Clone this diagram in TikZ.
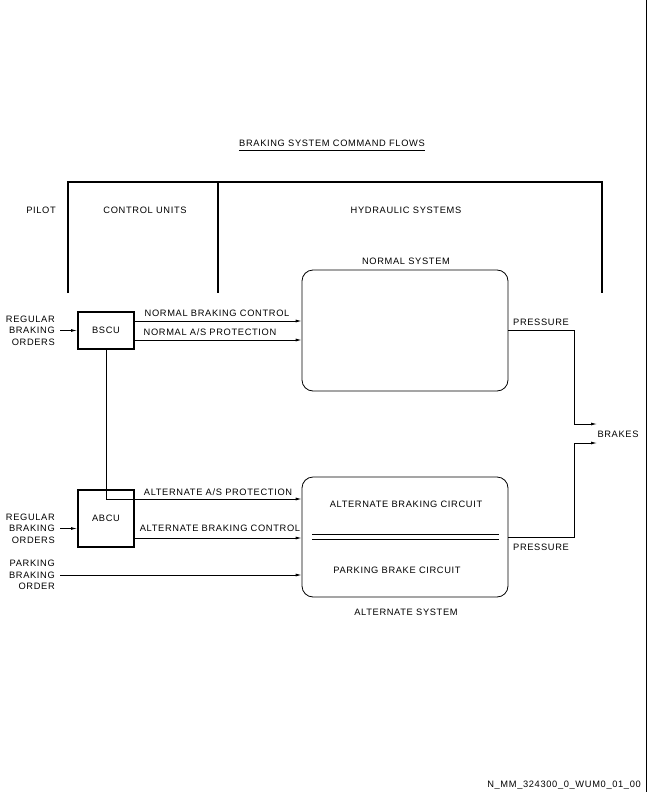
\documentclass[tikz,border=0pt]{standalone}
\usepackage{fontspec}
\setmainfont{Liberation Sans}[LetterSpace=7]
\usetikzlibrary{arrows.meta,calc}
\begin{document}
\begin{tikzpicture}[x=1pt,y=-1pt,
  lbl/.style={inner sep=0pt, font=\fontsize{9.3}{11.6}\selectfont},
  ln/.style={line width=0.8pt},
  arr/.style={ln,-{Latex[length=6pt,width=3pt]}},
  heavy/.style={line width=2pt},
  unitbox/.style={draw,line width=2pt,minimum width=56pt,inner sep=0pt,font=\fontsize{9.3}{11.6}\selectfont},
  sysbox/.style={draw,line width=0.8pt,rounded corners=11pt,minimum width=206pt,inner sep=0pt}]
\useasboundingbox (0,0) rectangle (648,792);
\draw[ln] (646,0) -- (646,792);
% title
\node[lbl] (title) at (332,143) {BRAKING SYSTEM COMMAND FLOWS};
\draw[ln] ($(title.south west)+(0,3.5)$) -- ($(title.south east)+(0,3.5)$);
% frame
\draw[heavy] (68,293) -- (68,182) -- (602,182) -- (602,293);
\draw[heavy] (218,182) -- (218,293);
\node[lbl] (pilot) at (41,210) {PILOT};
\node[lbl] (cu) at (145,210) {CONTROL UNITS};
\node[lbl] (hs) at (406,210) {HYDRAULIC SYSTEMS};
% systems
\node[lbl] (nslbl) at (406,261) {NORMAL SYSTEM};
\node[sysbox,minimum height=121pt] (normal) at (405,330.5) {};
\node[sysbox,minimum height=120pt] (alt) at (405,537) {};
\node[lbl] (aslbl) at (406,612) {ALTERNATE SYSTEM};
\node[lbl] (abcirc) at (406,504) {ALTERNATE BRAKING CIRCUIT};
\node[lbl] (pbcirc) at (397,570) {PARKING BRAKE CIRCUIT};
\draw[ln] (312,534) -- (499,534);
\draw[ln] (312,539) -- (499,539);
% control units
\node[unitbox,minimum height=37pt] (bscu) at (106,330.5) {BSCU};
\node[unitbox,minimum height=57pt] (abcu) at (106,518.5) {ABCU};
% pilot orders
\node[lbl,align=right,anchor=east] (reg1) at (55,330.5) {REGULAR\\BRAKING\\ORDERS};
\node[lbl,align=right,anchor=east] (reg2) at (55,528.5) {REGULAR\\BRAKING\\ORDERS};
\node[lbl,align=right,anchor=east] (park) at (55,575) {PARKING\\BRAKING\\ORDER};
\draw[arr] ([xshift=5pt]reg1.east) -- (bscu.west);
\draw[arr] ([xshift=5pt]reg2.east) -- (reg2.east -| abcu.west);
\draw[arr] ([xshift=5pt]park.east) -- (park.east -| alt.west);
% command flows
\draw[arr] ([yshift=9.5pt]bscu.east) -- ([yshift=9.5pt]bscu.east -| normal.west);
\draw[arr] ([yshift=-9.5pt]bscu.east) -- ([yshift=-9.5pt]bscu.east -| normal.west);
\node[lbl] (nbc) at (217,313) {NORMAL BRAKING CONTROL};
\node[lbl] (nap) at (210,332) {NORMAL A/S PROTECTION};
\coordinate (aapc) at (106,499);
\draw[arr] (bscu.south) -- (aapc) -- (aapc -| alt.west);
\draw[arr] ([yshift=-19.5pt]abcu.east) -- ([yshift=-19.5pt]abcu.east -| alt.west);
\node[lbl] (aap) at (218,492) {ALTERNATE A/S PROTECTION};
\node[lbl] (abc) at (220,528) {ALTERNATE BRAKING CONTROL};
% pressure to brakes
\node[lbl] (brakes) at (618,434) {BRAKES};
\coordinate (bk1) at (597,424);
\coordinate (bk2) at (597,443);
\draw[arr] (normal.east) -- ++(66,0) |- (bk1);
\draw[arr] (alt.east) -- ++(66,0) |- (bk2);
\node[lbl] (p1) at (541,322) {PRESSURE};
\node[lbl] (p2) at (541,547) {PRESSURE};
% footer
\node[lbl,anchor=east] (ref) at (641,785) {N\_MM\_324300\_0\_WUM0\_01\_00};
\end{tikzpicture}
\end{document}
